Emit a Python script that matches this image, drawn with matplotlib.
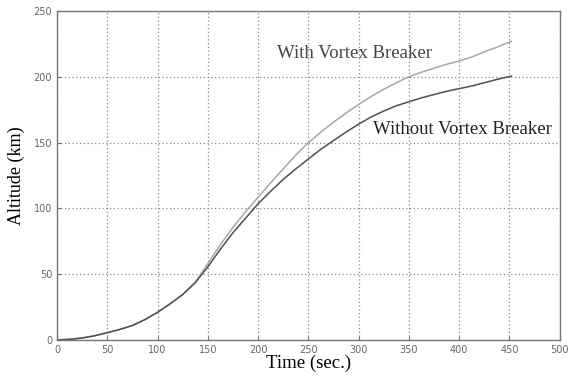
import matplotlib
matplotlib.use('Agg')
import matplotlib.pyplot as plt
import numpy as np

# Datos (tiempo en s, altitud en km)
tiempo = [0, 12.5, 25, 37.5, 50, 62.5, 75, 87.5, 100, 112.5, 125, 137.5,
          150, 162.5, 175, 187.5, 200, 212.5, 225, 237.5, 250, 262.5, 275,
          287.5, 300, 312.5, 325, 337.5, 350, 362.5, 375, 387.5, 400, 412.5,
          425, 437.5, 452]
con_rompedor = [0, 0.5, 1.5, 3.2, 5.5, 8, 11, 15.5, 21, 27.5, 34.5, 44,
                58, 72.5, 85.5, 97.5, 108.5, 119.5, 130, 140.5, 150, 158,
                165.5, 172.5, 179, 185, 190.5, 195.5, 200, 203.5, 206.5,
                209.5, 212, 215, 219, 222.5, 227]
sin_rompedor = [0, 0.5, 1.5, 3.2, 5.5, 8, 11, 15.5, 21, 27.5, 34.5, 43.5,
                55.5, 69, 81.5, 92.5, 103.5, 113, 122, 130, 137.5, 145, 151.5,
                158, 164, 169.5, 174, 178, 181, 184, 186.5, 189, 191, 193,
                195.5, 198, 200.5]

etiqueta_con = 'With Vortex Breaker'
etiqueta_sin = 'Without Vortex Breaker'

fig = plt.figure(figsize=(5.7, 3.79), dpi=100)
ax = fig.add_axes([0.1, 0.103, 0.882, 0.868])

ax.plot(tiempo, con_rompedor, color='#a8a8a8', lw=1.1)
ax.plot(tiempo, sin_rompedor, color='#505050', lw=1.1)

ax.set_xlim(0, 500)
ax.set_ylim(0, 250)
ax.set_xticks(np.arange(0, 501, 50))
ax.set_yticks(np.arange(0, 251, 50))
ax.grid(True, linestyle=(0, (1, 2)), color='#8a8a8a', lw=0.9)
ax.tick_params(direction='in', length=3, colors='#777777', labelsize=7,
               labelcolor='#666666')
for lado in ax.spines.values():
    lado.set_color('#777777')
    lado.set_linewidth(1.0)

serif = ['Liberation Serif', 'DejaVu Serif']
ax.text(219, 218, etiqueta_con, family=serif, fontsize=13.5,
        color='#444444', va='center')
ax.text(314, 160, etiqueta_sin, family=serif, fontsize=13.5,
        color='#222222', va='center')

ax.set_xlabel('Time (sec.)', family=serif, fontsize=13.5, labelpad=0)
ax.set_ylabel('Altitude (km)', family=serif, fontsize=13, labelpad=6)

fig.savefig('out.png', dpi=100)
